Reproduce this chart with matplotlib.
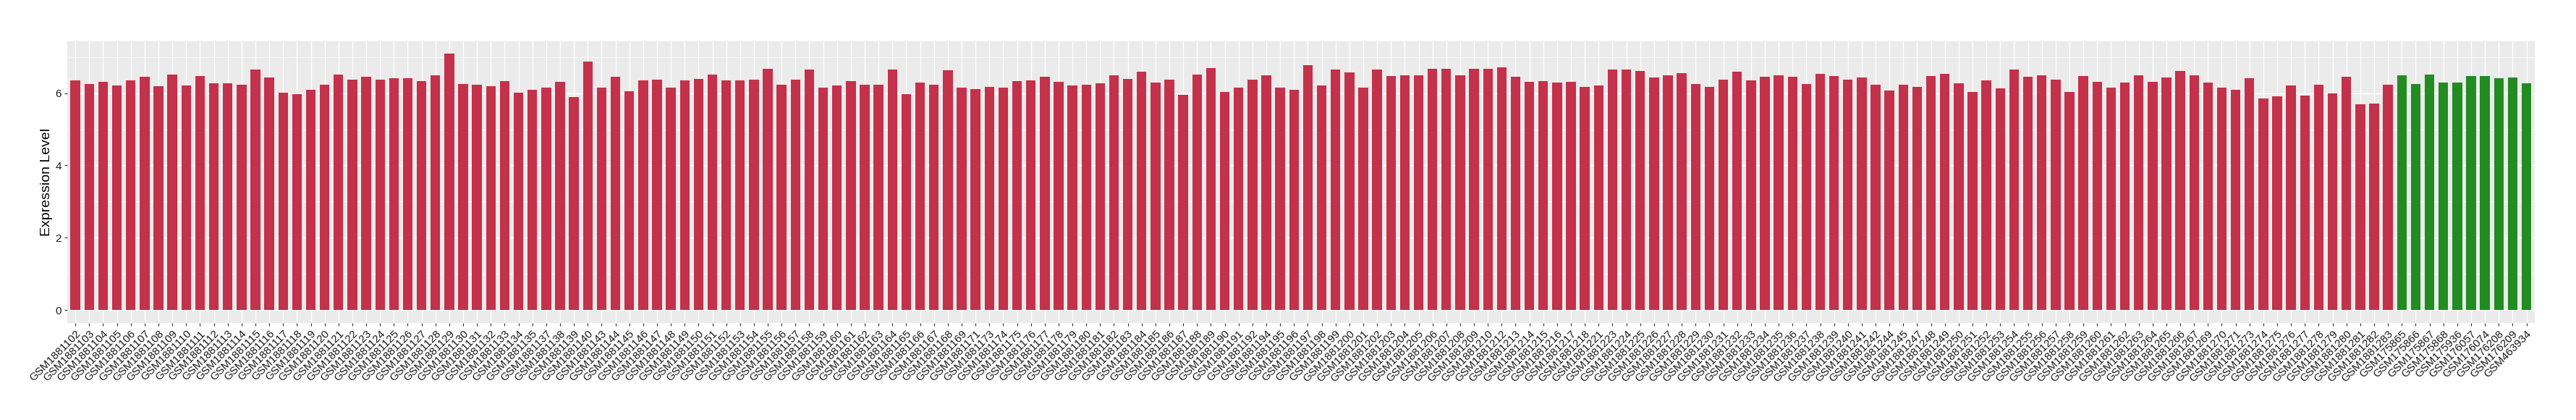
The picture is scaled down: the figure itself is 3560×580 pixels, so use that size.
import matplotlib
matplotlib.use("Agg")
import matplotlib.pyplot as plt
import numpy as np

plt.rcParams['font.family'] = ['Liberation Sans', 'DejaVu Sans']

# Tumour samples (red) and their expression values
tumor_samples = [
    "GSM1881102", "GSM1881103", "GSM1881104", "GSM1881105", "GSM1881106", "GSM1881107", "GSM1881108", "GSM1881109", "GSM1881110", "GSM1881111",
    "GSM1881112", "GSM1881113", "GSM1881114", "GSM1881115", "GSM1881116", "GSM1881117", "GSM1881118", "GSM1881119", "GSM1881120", "GSM1881121",
    "GSM1881122", "GSM1881123", "GSM1881124", "GSM1881125", "GSM1881126", "GSM1881127", "GSM1881128", "GSM1881129", "GSM1881130", "GSM1881131",
    "GSM1881132", "GSM1881133", "GSM1881134", "GSM1881135", "GSM1881137", "GSM1881138", "GSM1881139", "GSM1881140", "GSM1881143", "GSM1881144",
    "GSM1881145", "GSM1881146", "GSM1881147", "GSM1881148", "GSM1881149", "GSM1881150", "GSM1881151", "GSM1881152", "GSM1881153", "GSM1881154",
    "GSM1881155", "GSM1881156", "GSM1881157", "GSM1881158", "GSM1881159", "GSM1881160", "GSM1881161", "GSM1881162", "GSM1881163", "GSM1881164",
    "GSM1881165", "GSM1881166", "GSM1881167", "GSM1881168", "GSM1881169", "GSM1881171", "GSM1881173", "GSM1881174", "GSM1881175", "GSM1881176",
    "GSM1881177", "GSM1881178", "GSM1881179", "GSM1881180", "GSM1881181", "GSM1881182", "GSM1881183", "GSM1881184", "GSM1881185", "GSM1881186",
    "GSM1881187", "GSM1881188", "GSM1881189", "GSM1881190", "GSM1881191", "GSM1881192", "GSM1881194", "GSM1881195", "GSM1881196", "GSM1881197",
    "GSM1881198", "GSM1881199", "GSM1881200", "GSM1881201", "GSM1881202", "GSM1881203", "GSM1881204", "GSM1881205", "GSM1881206", "GSM1881207",
    "GSM1881208", "GSM1881209", "GSM1881210", "GSM1881212", "GSM1881213", "GSM1881214", "GSM1881215", "GSM1881216", "GSM1881217", "GSM1881218",
    "GSM1881221", "GSM1881223", "GSM1881224", "GSM1881225", "GSM1881226", "GSM1881227", "GSM1881228", "GSM1881229", "GSM1881230", "GSM1881231",
    "GSM1881232", "GSM1881233", "GSM1881234", "GSM1881235", "GSM1881236", "GSM1881237", "GSM1881238", "GSM1881239", "GSM1881240", "GSM1881241",
    "GSM1881242", "GSM1881244", "GSM1881245", "GSM1881247", "GSM1881248", "GSM1881249", "GSM1881250", "GSM1881251", "GSM1881252", "GSM1881253",
    "GSM1881254", "GSM1881255", "GSM1881256", "GSM1881257", "GSM1881258", "GSM1881259", "GSM1881260", "GSM1881261", "GSM1881262", "GSM1881263",
    "GSM1881264", "GSM1881265", "GSM1881266", "GSM1881267", "GSM1881269", "GSM1881270", "GSM1881271", "GSM1881273", "GSM1881274", "GSM1881275",
    "GSM1881276", "GSM1881277", "GSM1881278", "GSM1881279", "GSM1881280", "GSM1881281", "GSM1881282", "GSM1881283",
]
tumor_values = [
    6.35, 6.25, 6.31, 6.21, 6.35, 6.45, 6.19, 6.51, 6.21, 6.47,
    6.27, 6.27, 6.23, 6.65, 6.43, 6.01, 5.97, 6.09, 6.23, 6.51,
    6.37, 6.45, 6.37, 6.41, 6.41, 6.33, 6.49, 7.09, 6.25, 6.23,
    6.19, 6.33, 6.01, 6.09, 6.15, 6.31, 5.89, 6.87, 6.15, 6.45,
    6.05, 6.35, 6.37, 6.15, 6.35, 6.39, 6.51, 6.35, 6.35, 6.37,
    6.67, 6.23, 6.37, 6.65, 6.15, 6.21, 6.33, 6.23, 6.23, 6.65,
    5.97, 6.29, 6.23, 6.63, 6.15, 6.11, 6.17, 6.15, 6.33, 6.35,
    6.45, 6.31, 6.21, 6.23, 6.27, 6.49, 6.39, 6.59, 6.29, 6.37,
    5.95, 6.51, 6.69, 6.03, 6.15, 6.37, 6.49, 6.15, 6.09, 6.77,
    6.21, 6.65, 6.57, 6.15, 6.65, 6.47, 6.49, 6.49, 6.67, 6.67,
    6.49, 6.67, 6.67, 6.71, 6.45, 6.31, 6.33, 6.29, 6.31, 6.17,
    6.21, 6.65, 6.65, 6.61, 6.43, 6.49, 6.55, 6.25, 6.17, 6.37,
    6.59, 6.35, 6.45, 6.49, 6.45, 6.25, 6.53, 6.47, 6.37, 6.43,
    6.23, 6.07, 6.23, 6.17, 6.47, 6.53, 6.27, 6.03, 6.35, 6.13,
    6.65, 6.45, 6.49, 6.37, 6.03, 6.47, 6.31, 6.15, 6.29, 6.49,
    6.31, 6.43, 6.61, 6.49, 6.29, 6.15, 6.09, 6.41, 5.85, 5.91,
    6.21, 5.93, 6.23, 5.99, 6.45, 5.69, 5.71, 6.23,
]

# Normal samples (green)
normal_samples = ["GSM175865", "GSM175866", "GSM175867", "GSM175868", "GSM175936",
                  "GSM176057", "GSM176074", "GSM176208", "GSM176209", "GSM463934"]
normal_values = [6.49, 6.25, 6.51, 6.29, 6.29, 6.47, 6.47, 6.41, 6.43, 6.27]

TUMOR_COLOR = '#C3314A'
NORMAL_COLOR = '#228B22'

samples = tumor_samples + normal_samples
values = tumor_values + normal_values
colors = [TUMOR_COLOR] * len(tumor_samples) + [NORMAL_COLOR] * len(normal_samples)
x = np.arange(len(samples))

fig = plt.figure(figsize=(35.6, 5.8), dpi=100)
ax = fig.add_axes([92.7 / 3560, 1 - 445.7 / 580, (3503 - 92.7) / 3560, (445.7 - 56.7) / 580])

# ggplot-like panel
ax.set_facecolor('#EBEBEB')
for s in ax.spines.values():
    s.set_visible(False)
ax.set_axisbelow(True)
ax.grid(which='major', color='white', linewidth=1.0)
ax.set_yticks([1, 3, 5, 7], minor=True)
ax.grid(which='minor', axis='y', color='white', linewidth=0.5)

ax.bar(x, values, width=0.7, color=colors, linewidth=0)

ax.set_xlim(-0.6, len(samples) - 1 + 0.6)
ax.set_ylim(-0.354, 7.441)
ax.set_yticks([0, 2, 4, 6])
ax.set_yticklabels(['0', '2', '4', '6'])
ax.set_xticks(x)
ax.set_xticklabels(samples, rotation=45, ha='right', va='top', rotation_mode='anchor')

ax.tick_params(axis='both', which='major', length=3.2, width=0.8, color='#333333',
               labelsize=11, labelcolor='#1a1a1a', pad=2.5)
ax.tick_params(axis='y', which='minor', length=0)

ax.set_ylabel('Expression Level', fontsize=14, va='center')
ax.yaxis.set_label_coords(-28.5 / 3410.3, 0.5)

fig.savefig('out.png', dpi=100)
